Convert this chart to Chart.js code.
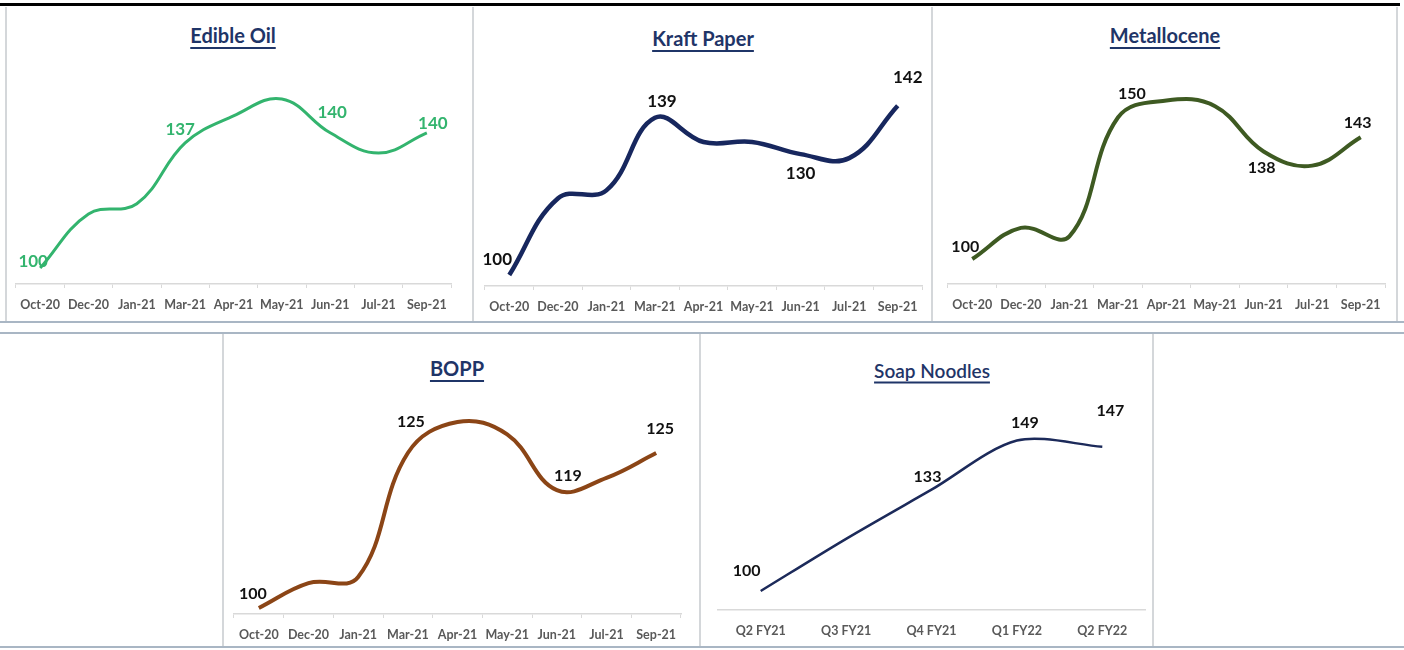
<!DOCTYPE html>
<html>
<head>
<meta charset="utf-8">
<script src="https://cdn.jsdelivr.net/npm/chart.js@4"></script>
<style>
  body { margin: 0; background: #fff; width: 1404px; height: 650px; position: relative; overflow: hidden; font-family: Lato, sans-serif; }
  .hl { position: absolute; left: 0; width: 1404px; height: 2px; background: #a9b6c4; }
  .vl { position: absolute; width: 2px; background: #d4d7da; }
  .title { position: absolute; transform: translate(-50%, -50%); font-weight: bold; font-size: 20px; color: #1f3568;
           text-decoration: underline; text-decoration-thickness: 2px; text-underline-offset: 4px; white-space: nowrap; }
  canvas { position: absolute; }
</style>
</head>
<body>
<div style="position:absolute;left:0;top:3px;width:1400px;height:3px;background:#000"></div>
<div class="hl" style="top:321px"></div>
<div class="hl" style="top:332px"></div>
<div class="hl" style="top:646px"></div>
<div class="vl" style="left:5px;top:7px;height:314px"></div>
<div class="vl" style="left:472px;top:7px;height:314px"></div>
<div class="vl" style="left:931px;top:7px;height:314px"></div>
<div class="vl" style="left:1396px;top:7px;height:314px"></div>
<div class="vl" style="left:222px;top:334px;height:312px"></div>
<div class="vl" style="left:699px;top:334px;height:312px"></div>
<div class="vl" style="left:1152px;top:334px;height:312px"></div>

<div class="title" style="left:233px;top:35px">Edible Oil</div>
<div class="title" style="left:703px;top:38px">Kraft Paper</div>
<div class="title" style="left:1165px;top:35px">Metallocene</div>
<div class="title" style="left:457px;top:368px">BOPP</div>
<div class="title" style="left:932px;top:370px;font-weight:600;font-size:19px">Soap Noodles</div>

<canvas id="c1"></canvas>
<canvas id="c2"></canvas>
<canvas id="c3"></canvas>
<canvas id="c4"></canvas>
<canvas id="c5"></canvas>

<script>
const monthLabels = ["Oct-20", "Dec-20", "Jan-21", "Mar-21", "Apr-21", "May-21", "Jun-21", "Jul-21", "Sep-21"];
const quarterLabels = ["Q2 FY21", "Q3 FY21", "Q4 FY21", "Q1 FY22", "Q2 FY22"];

const edibleOil = [100, 116, 119, 137, 145, 150, 140, 134, 140];
const kraftPaper = [100, 119, 121, 139, 133, 133, 130, 129, 142];
const metallocene = [100, 111, 108, 150, 156, 154, 138, 133, 143];
const bopp = [100, 104, 105, 125, 130, 128, 119, 121, 125];
const soapNoodles = [100, 117, 133, 149, 147];

Chart.defaults.font.family = "Lato, 'Open Sans', sans-serif";

// draws the value of selected points, offset from the point
const pointLabels = {
    id: "pointLabels",
    afterDatasetsDraw(chart, args, opts) {
        const meta = chart.getDatasetMeta(0);
        const values = chart.data.datasets[0].data;
        const ctx = chart.ctx;
        ctx.save();
        ctx.font = opts.font;
        ctx.fillStyle = opts.color;
        ctx.textAlign = "center";
        ctx.textBaseline = "middle";
        opts.items.forEach(([i, dx, dy]) => {
            const p = meta.data[i];
            ctx.fillText(values[i], p.x + dx, p.y + dy);
        });
        ctx.restore();
    }
};

function makeChart(id, box, area, labels, values, yMin, yMax, line, lbl, tickMarks) {
    const el = document.getElementById(id);
    el.width = box.w; el.height = box.h;
    el.style.left = box.x + "px"; el.style.top = box.y + "px";
    el.style.width = box.w + "px"; el.style.height = box.h + "px";
    const axisH = 30;
    return new Chart(el, {
        type: "line",
        data: {
            labels: labels,
            datasets: [{
                data: values,
                borderColor: line.color,
                borderWidth: line.width,
                tension: line.tension,
                pointRadius: 0,
                fill: false
            }]
        },
        options: {
            responsive: false,
            animation: false,
            layout: {
                padding: {
                    left: area.l - box.x,
                    right: box.x + box.w - area.r,
                    top: area.t - box.y,
                    bottom: box.y + box.h - area.b - axisH
                }
            },
            plugins: {
                legend: { display: false },
                tooltip: { enabled: false },
                pointLabels: lbl
            },
            scales: {
                x: {
                    offset: true,
                    afterFit: (axis) => { axis.height = axisH; },
                    grid: {
                        offset: true,
                        drawOnChartArea: false,
                        tickLength: 4,
                        color: tickMarks ? "#d9d9d9" : "rgba(0,0,0,0)"
                    },
                    border: { color: "#d9d9d9", width: 1.5 },
                    ticks: {
                        color: "#595959",
                        padding: 9,
                        maxRotation: 0,
                        autoSkip: false,
                        font: { size: 12.5, weight: "bold" }
                    }
                },
                y: { display: false, min: yMin, max: yMax }
            }
        },
        plugins: [pointLabels]
    });
}

makeChart("c1", { x: 7, y: 7, w: 465, h: 314 }, { l: 16, r: 451, t: 60, b: 284 },
    monthLabels, edibleOil, 95.27, 161.54,
    { color: "#33b46e", width: 3, tension: 0.4 },
    { font: "bold 17px Lato", color: "#33b46e", items: [[0, -7, -6], [3, -5, -13], [6, 2, -20], [8, 6, -9]] },
    true);

makeChart("c2", { x: 474, y: 7, w: 457, h: 314 }, { l: 485, r: 922, t: 60, b: 286 },
    monthLabels, kraftPaper, 97.27, 153.35,
    { color: "#17275e", width: 4.5, tension: 0.4 },
    { font: "bold 17px Lato", color: "#111", items: [[0, -12, -15], [3, 7, -16], [6, 0, 19], [8, 10, -28]] },
    true);

makeChart("c3", { x: 933, y: 7, w: 463, h: 314 }, { l: 948, r: 1385, t: 60, b: 284 },
    monthLabels, metallocene, 91.17, 170.32,
    { color: "#3e5a22", width: 4, tension: 0.4 },
    { font: "bold 16px Lato", color: "#111", items: [[0, -7, -12], [3, 14, -24], [6, -2, 16], [8, -3, -14]] },
    true);

makeChart("c4", { x: 224, y: 334, w: 475, h: 312 }, { l: 234, r: 681, t: 390, b: 614 },
    monthLabels, bopp, 99.03, 135.16,
    { color: "#8b4516", width: 4, tension: 0.4 },
    { font: "bold 16px Lato", color: "#111", items: [[0, -6, -14], [3, 3, -31], [6, 11, -14], [8, 4, -24]] },
    true);

makeChart("c5", { x: 701, y: 334, w: 451, h: 312 }, { l: 718, r: 1145, t: 390, b: 610 },
    quarterLabels, soapNoodles, 93.81, 165.47,
    { color: "#1c2a5a", width: 2.5, tension: 0.3 },
    { font: "bold 16px Lato", color: "#111", items: [[0, -14, -20], [2, -4, -13], [3, 8, -18], [4, 8, -36]] },
    false);
</script>
</body>
</html>
